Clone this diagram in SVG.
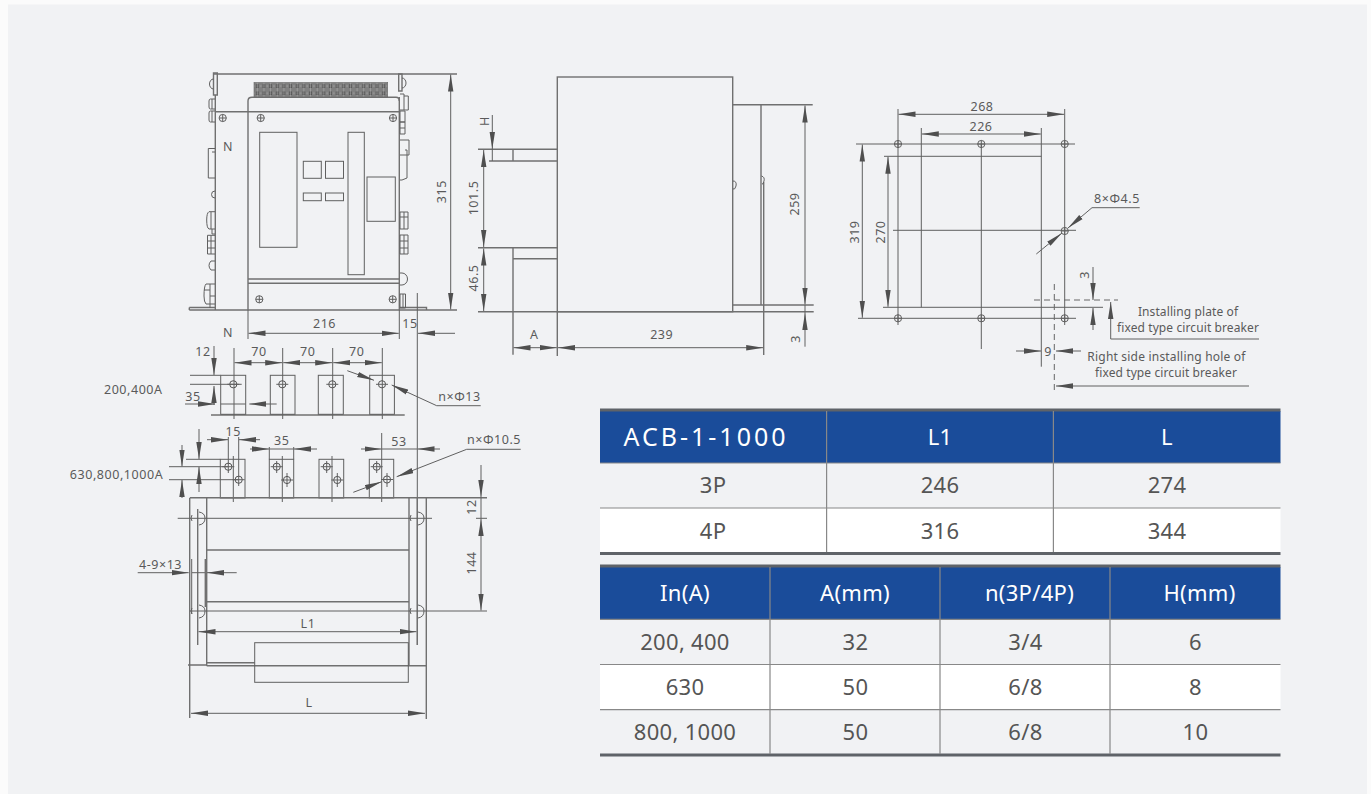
<svg xmlns="http://www.w3.org/2000/svg" width="1371" height="794" viewBox="0 0 1371 794">
<style>
.l{fill:none;stroke:#606060;stroke-width:1}
.m{fill:none;stroke:#707070;stroke-width:1.4}
.a{fill:none;stroke:#606060;stroke-width:1;marker-end:url(#ar)}
.d{fill:none;stroke:#606060;stroke-width:1;marker-start:url(#ar);marker-end:url(#ar)}
.dash{fill:none;stroke:#666;stroke-width:1;stroke-dasharray:6 4}
text{font-family:"Noto Sans","Open Sans",sans-serif;fill:#5a5a5a}
.t{font-size:12.5px;letter-spacing:.55px;text-anchor:middle;dominant-baseline:central}
.e{font-size:12px;letter-spacing:.1px;text-anchor:middle;dominant-baseline:central}
.tb{font-size:22px;letter-spacing:.3px;text-anchor:middle;dominant-baseline:central;fill:#555}
.th{font-size:22px;letter-spacing:.3px;text-anchor:middle;dominant-baseline:central;fill:#fff}
.g{stroke:#888;stroke-width:1.2;fill:none}
.bar{stroke:#5f6368;stroke-width:3;fill:none}
</style>
<defs>
<marker id="ar" markerUnits="userSpaceOnUse" markerWidth="18" markerHeight="6" refX="17" refY="3" orient="auto-start-reverse"><path d="M0,.3L17,3L0,5.7z" fill="#4f4f4f"/></marker>
<pattern id="tb" patternUnits="userSpaceOnUse" x="254" y="82.500" width="6.650" height="7.200"><rect width="6.650" height="7.200" fill="#808080"/><circle cx="3.300" cy="3.600" r="1.900" fill="#3c3c3c"/><path d="M0,3.600H6.650M3.300,0V7.200" stroke="#bbb" stroke-width=".5"/></pattern>
<g id="sc"><circle r="3.600" fill="none" stroke="#606060"/><path d="M-3.600,0H3.600M0,-3.600V3.600" stroke="#606060" fill="none"/></g>
<g id="h2"><circle r="3.600" fill="none" stroke="#555"/><path d="M-6,0H6" stroke="#606060" fill="none"/></g>
</defs>
<rect width="1371" height="794" fill="#fbfbfb"/>
<rect x="8" y="4.500" width="1359" height="789.500" fill="#f1f2f4"/>

<g id="front-view">
<path class="m" d="M213.500,74H457M215.300,95V310M189.300,310H457M215.300,111.700H399.300M399.300,97V310M189.300,307.500H215.300V310M189.300,307.500V310M399.300,307.500H426.500V310"/>
<path class="m" d="M248,310V101Q248,97.300 252,97.300H396Q399.300,97.300 399.300,101M248,279H399.300M248,283.300H399.300"/>
<rect x="254" y="82.500" width="133.700" height="14.400" fill="url(#tb)" stroke="#666" stroke-width=".6"/>
<path class="m" d="M213.500,73H217.300V95H213.500ZM398.700,74H402V91H398.700Z"/>
<path class="l" d="M213.500,79A4,5 0 0 0 213.500,89M402,78A4,5 0 0 1 402,88"/>
<path class="l" d="M215,99H210.500Q209,99 209,101V107Q209,109 210.500,109H215M215,111H210.500Q209,111 209,113V120Q209,122 210.500,122H215M212,99V109M212,111V122M215,148.500H208.300V178H215M212,152H215M215,191A3.500,3.500 0 0 0 215,198M215,211.700H209Q206.700,213 206.700,220Q206.700,228 209,229H215M212,229V234H215M211,212V229M215,235.300H207.500V254H215M207.500,241H215M207.500,248H215M211,235.300V254M215,261H211Q209,263 209,265.500Q209,268 211,270H215M215,284H206Q204,286 204,296Q204,302 206,304H215M210,284V308M210,296H215M204,290H210"/>
<path class="l" d="M400,94H404V110H400M404,96H408.300V110H404M400,111H405V122H400ZM400,122H405V134H400ZM400,128H405M400,140H409V155H400M405,150H407V178L402,180H400M400,212H408V229H400ZM404,212V229M400,217H408M400,235H408V254H400ZM404,235V254M400,241H408M400,248H408M400,273H402A5.500,6 0 0 1 402,285H400M400,294H405.500V308H400ZM403,294V308"/>
<rect class="l" x="259.700" y="132.300" width="37.300" height="115"/>
<rect class="l" x="303.300" y="161.300" width="18" height="17"/>
<rect class="l" x="325.500" y="161.300" width="18" height="17"/>
<rect class="l" x="303.300" y="193" width="18" height="7.700"/>
<rect class="l" x="325.500" y="193" width="18" height="7.700"/>
<rect class="l" x="348" y="132.300" width="16.300" height="142.400"/>
<rect class="l" x="367" y="177" width="28.300" height="44.300"/>
<use href="#sc" x="222.700" y="118"/><use href="#sc" x="260.700" y="118"/><use href="#sc" x="393" y="118"/><use href="#sc" x="259.300" y="299.300"/><use href="#sc" x="392.700" y="299.300"/>
<path class="l" d="M248,310V339M399.300,310V339M417.300,293V645"/>
<path class="d" d="M248.500,333.300H398.800"/>
<path class="a" d="M455,333.300H418"/>
<path class="d" d="M450.700,74.500V309.500"/>
<text class="t" x="228" y="146">N</text>
<text class="t" x="228" y="332">N</text>
<text class="t" x="324.500" y="323">216</text>
<text class="t" x="410" y="323">15</text>
<text class="t" transform="translate(441.700,191.700) rotate(-90)">315</text>
</g>

<g id="terminals-200-400">
<path class="m" d="M211,415H404.700"/>
<rect class="l" x="220.700" y="375.300" width="25" height="39"/>
<rect class="l" x="270.300" y="375.300" width="24.700" height="39"/>
<rect class="l" x="318.300" y="375.300" width="25" height="39"/>
<rect class="l" x="369.700" y="375.300" width="24.700" height="39"/>
<path class="l" d="M234,348V419M282.700,348V419M332.700,348V419M382.300,348V419"/>
<use href="#h2" x="233.300" y="384.300"/><use href="#h2" x="282.300" y="384.300"/><use href="#h2" x="332.300" y="384.300"/><use href="#h2" x="382" y="384.300"/>
<path class="l" d="M190,375.300H220.700M190,384.300H241.700M220.700,404H245.700M436.700,405.700H480.700"/>
<path class="d" d="M234.500,362.700H282.200"/><path class="d" d="M283.200,362.700H332.200"/><path class="d" d="M333.200,362.700H381.800"/>
<path class="a" d="M214,346V375"/><path class="a" d="M214,405V386"/>
<path class="a" d="M185,404H215"/><path class="a" d="M276.700,404H249.300"/>
<path class="a" d="M347.300,370.700L374,380.300"/><path class="a" d="M436.700,405.700L391.700,385"/>
<text class="t" x="203" y="351">12</text><text class="t" x="259" y="351.700">70</text><text class="t" x="307.700" y="351.700">70</text><text class="t" x="356.700" y="351.700">70</text>
<text class="t" x="133.300" y="389.500">200,400A</text><text class="t" x="193" y="396.500">35</text><text class="t" x="459.500" y="396">n×Φ13</text>
</g>

<g id="terminals-630-1000">
<rect class="l" x="220.300" y="459.300" width="24.700" height="38.700"/>
<rect class="l" x="269.300" y="459.300" width="24.400" height="38.700"/>
<rect class="l" x="319" y="459.300" width="24.700" height="38.700"/>
<rect class="l" x="369.300" y="459.300" width="24.400" height="38.700"/>
<path class="l" d="M233.300,456V502M282.300,456V502M332,456V502M381.700,433V502M228.300,437V473M238.700,437V486M269.300,447V459.300M293.700,447V459.300M269.300,449H293.700M186,459.300H220.300M169,466.700H228.300M169,479.700H238.700M287,473V487M337.300,473V487M387,473V487M276.700,461V473M326.700,461V473M376.700,461V473"/>
<use href="#h2" x="228.300" y="466.700"/><use href="#h2" x="276.700" y="466.700"/><use href="#h2" x="326.700" y="466.700"/><use href="#h2" x="376.700" y="466.700"/>
<use href="#h2" x="238.700" y="479.700"/><use href="#h2" x="287" y="480"/><use href="#h2" x="337.300" y="480"/><use href="#h2" x="387" y="479.500"/>
<path class="a" d="M207,439.700H228"/><path class="a" d="M260,439.700H239"/>
<path class="a" d="M250,449H269"/><path class="a" d="M317,449H294"/>
<path class="a" d="M361,449H381.500"/><path class="a" d="M440,449H417.500"/><path class="l" d="M381.700,449H417"/>
<path class="a" d="M199,429V459"/><path class="a" d="M199,492V467"/>
<path class="a" d="M182,445V466.500"/><path class="a" d="M182,498V480"/>
<path class="l" d="M520.700,449.300H466.700"/>
<path class="a" d="M466.700,449.300L396.700,476.700"/><path class="a" d="M353.300,492.300L381.700,481.700"/>
<text class="t" x="233.300" y="431">15</text><text class="t" x="281.700" y="440.700">35</text><text class="t" x="399" y="441.700">53</text>
<text class="t" x="116.500" y="474">630,800,1000A</text><text class="t" x="494" y="439">n×Φ10.5</text>
</g>

<g id="bottom-view">
<path class="m" d="M190,497.700H487M189.700,497.700V718M426.300,497.700V719M206.700,497.700V665.700M409,497.700V665.700M197.700,509V645M417.300,497.700V645"/>
<path class="m" d="M206.700,550H409M206.700,601.700H409M206.700,665.700H426M188,665H206.700M206.700,662.700H254.700M254.700,665.700H408.300"/>
<path class="l" d="M177.700,518.300H432M190,611H487M476,518.300H487"/>
<rect class="l" x="254.700" y="642.700" width="153.600" height="39.600"/>
<path class="l" d="M199,512Q205,513 205,518.300Q205,524 199,525M192,515L191,518.300L192,521M199,605Q205,606 205,611Q205,617 199,618M192,608L191,611L192,614M418,512Q424,513 424,518.300Q424,524 418,525M411,515L410,518.300L411,521M418,605Q424,606 424,611Q424,617 418,618M411,608L410,611L411,614"/>
<path class="l" d="M191.700,559V614M192,572.700H205"/><path class="m" d="M205.300,559V607"/>
<path class="a" d="M137.700,572.700H188.700"/><path class="a" d="M236.700,572.700H207"/>
<path class="d" d="M198.500,631.700H416.500"/>
<path class="d" d="M191,713.300H425"/>
<path class="a" d="M481,465V497"/>
<path class="d" d="M481,519V610.500"/><path class="l" d="M481,497V519"/>
<text class="t" x="160.500" y="564.500">4-9×13</text><text class="t" x="308" y="623">L1</text><text class="t" x="309" y="702.500">L</text>
<text class="t" transform="translate(471.500,507) rotate(-90)">12</text>
<text class="t" transform="translate(471,563) rotate(-90)">144</text>
</g>

<g id="side-view">
<rect class="m" x="557.300" y="77" width="175.400" height="234.700"/>
<path class="m" d="M732.700,104.700H812.700M761,104.700V305M732.700,305H813.700M478,311.700H813.700M478,149.300H557.300M489,161H557.300M478,247.700H557.300M513,258.700H557.300M513,149.300V161M513,247.700V354.700M557.300,311.700V356M763.700,182V355"/>
<path class="l" d="M733,181Q737,181 736,186Q735,190 733,189M761.500,176Q765,177 764,181Q763,185 762,184"/>
<path class="l" d="M492.300,149V161"/>
<path class="a" d="M492.300,115V149"/>
<path class="d" d="M483.700,150V247"/><path class="d" d="M483.700,248.500V311"/>
<path class="d" d="M805,105.500V304.500"/><path class="a" d="M805,346.700V313"/><path class="l" d="M805,305V313"/>
<path class="d" d="M513.500,347.700H556.800"/><path class="d" d="M558,347.700H763.200"/>
<text class="t" transform="translate(484.500,121) rotate(-90)">H</text>
<text class="t" transform="translate(473,198) rotate(-90)">101.5</text>
<text class="t" transform="translate(473,278) rotate(-90)">46.5</text>
<text class="t" transform="translate(794.500,204) rotate(-90)">259</text>
<text class="t" transform="translate(795,339) rotate(-90)">3</text>
<text class="t" x="534.300" y="334">A</text><text class="t" x="661.700" y="334">239</text>
</g>

<g id="mounting-plan">
<path class="l" d="M898,109V325M921.300,128V307.300M981.300,144V349M1041.300,128V366.700M1064.700,109V325M856,144H1075M884,156.300H1041.300M893,230.300H1076M883,307.300H1103M858,318.300H1076"/>
<use href="#sc" x="898" y="144"/><use href="#sc" x="981.300" y="144"/><use href="#sc" x="1064.700" y="144"/><use href="#sc" x="898" y="318.300"/><use href="#sc" x="981.300" y="318.300"/><use href="#sc" x="1064.700" y="318.300"/><use href="#sc" x="1064.700" y="231"/>
<path class="d" d="M898.500,114.300H1064.200"/><path class="d" d="M921.800,134H1040.800"/>
<path class="d" d="M862.300,144.500V317.800"/><path class="d" d="M888,156.800V306.800"/>
<path class="l" d="M1139.700,207.700H1092"/><path class="a" d="M1092,207.700L1068,228"/><path class="a" d="M1036.300,254L1062,233"/>
<path class="a" d="M1093,267V300"/><path class="a" d="M1093,330V308"/>
<path class="dash" d="M1034,300H1118M1054.300,284V393"/>
<path class="a" d="M1259,339H1110.700V302"/>
<path class="a" d="M1016,351H1041"/><path class="a" d="M1081,351H1056"/><path class="a" d="M1249,386H1056"/>
<text class="t" x="982" y="106">268</text><text class="t" x="981" y="126">226</text>
<text class="t" transform="translate(854.700,232) rotate(-90)">319</text>
<text class="t" transform="translate(880,232) rotate(-90)">270</text>
<text class="t" x="1117" y="198">8×Φ4.5</text>
<text class="t" transform="translate(1084,275) rotate(-90)">3</text>
<text class="t" x="1048" y="351.500">9</text>
<text class="e" x="1188" y="311.500">Installing plate of</text><text class="e" x="1188" y="327">fixed type circuit breaker</text>
<text class="e" style="letter-spacing:.2px" x="1166.500" y="356.500">Right side installing hole of</text><text class="e" x="1166" y="372">fixed type circuit breaker</text>
</g>

<g id="table-1">
<rect x="600" y="411" width="680.500" height="52" fill="#1a4c9a"/>
<rect x="600" y="508" width="680.500" height="45" fill="#fff"/>
<path class="bar" d="M600,410H1280.500M600,553.500H1280.500"/>
<path class="g" d="M600,463H1280.500M600,508H1280.500M826.600,411V552M1053.400,411V552"/>
<text class="th" x="706" y="435.500" style="font-size:25px;letter-spacing:3px">ACB-1-1000</text>
<text class="th" x="940" y="435.500">L1</text><text class="th" x="1167" y="435.500">L</text>
<text class="tb" x="713" y="484">3P</text><text class="tb" x="940" y="484">246</text><text class="tb" x="1167" y="484">274</text>
<text class="tb" x="713" y="529.500">4P</text><text class="tb" x="940" y="529.500">316</text><text class="tb" x="1167" y="529.500">344</text>
</g>

<g id="table-2">
<rect x="600" y="567" width="680.500" height="52" fill="#1a4c9a"/>
<rect x="600" y="664.500" width="680.500" height="45" fill="#fff"/>
<path class="bar" d="M600,566H1280.500M600,755H1280.500"/>
<path class="g" d="M600,619.300H1280.500M600,664.500H1280.500M600,709.700H1280.500M770,567V754M940,567V754M1110,567V754"/>
<text class="th" x="685" y="592">In(A)</text><text class="th" x="855" y="592">A(mm)</text><text class="th" x="1029.500" y="592">n(3P/4P)</text><text class="th" x="1199.500" y="592">H(mm)</text>
<text class="tb" x="685" y="640.500">200, 400</text><text class="tb" x="855.500" y="640.500">32</text><text class="tb" x="1025.500" y="640.500">3/4</text><text class="tb" x="1195.500" y="640.500">6</text>
<text class="tb" x="685" y="685.500">630</text><text class="tb" x="855.500" y="685.500">50</text><text class="tb" x="1025.500" y="685.500">6/8</text><text class="tb" x="1195.500" y="685.500">8</text>
<text class="tb" x="685" y="731">800, 1000</text><text class="tb" x="855.500" y="731">50</text><text class="tb" x="1025.500" y="731">6/8</text><text class="tb" x="1195.500" y="731">10</text>
</g>
</svg>
